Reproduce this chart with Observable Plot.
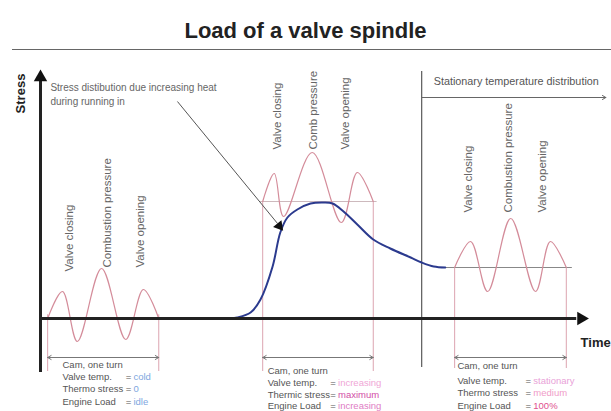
<!DOCTYPE html>
<html>
<head>
<meta charset="utf-8">
<script src="https://cdn.jsdelivr.net/npm/d3@7"></script>
<script src="https://cdn.jsdelivr.net/npm/@observablehq/plot@0.6"></script>
<style>
  html, body { margin: 0; padding: 0; background: #fff; }
  #wrap { width: 611px; height: 411px; overflow: hidden; position: relative; }
  #title { height: 50px; margin-left: 12px; border-bottom: 1.5px solid #666;
           font: bold 22px "Liberation Sans", Arial, sans-serif; color: #222;
           text-align: center; line-height: 22px; padding-top: 20px; padding-right: 12px; box-sizing: border-box; }
  svg { display: block; }
</style>
</head>
<body>
<div id="wrap">
  <div id="title">Load of a valve spindle</div>
  <div id="chart"></div>
</div>
<script>
// ---- data (time t, stress s) ----
// cam-turn waves: left (idle, cold), middle (running in), right (stationary)
const waveLeftT  = [1.3, 4.0, 6.7, 11.1, 15.5, 18.7, 21.5];
const waveLeftS  = [0, 10.8, -9.2, 20.0, -8.4, 11.6, 0];
const waveMidT   = [40.4, 42.5, 44.2, 49.4, 54.7, 57.6, 60.5];
const waveMidS   = [46.8, 58.0, 40.8, 66.4, 38.4, 58.4, 46.8];
const waveRightT = [75.3, 78.2, 81.3, 85.5, 90.0, 92.7, 95.6];
const waveRightS = [20.4, 30.8, 10.8, 40.0, 10.8, 30.8, 20.4];

// mean thermal stress during running in
const heatT = [34.5, 35.8, 38.2, 40.0, 42.2, 43.6, 44.9, 46.7, 49.1, 51.5, 53.1, 55.1, 57.6, 60.5, 63.6, 67.3, 69.3, 71.5, 73.6];
const heatS = [0, 0.4, 2.4, 7.6, 20.8, 34.4, 40.4, 43.6, 46.0, 46.4, 46.0, 42.8, 37.6, 31.6, 28.0, 24.4, 22.4, 20.8, 20.4];

// cam turn spans (start, end), mean levels and bracket bottoms
const camStart = [1.3, 40.4, 75.3];
const camEnd   = [21.5, 60.5, 95.6];
const camMean  = [1.5, 46.8, 20.4];
const camFoot  = [-21.2, -21.2, -20.0];
const camArrowS = -15.6;

// vertical event labels
const eventLabels = ["Valve closing", "Combustion pressure", "Valve opening",
                     "Valve closing", "Comb pressure", "Valve opening",
                     "Valve closing", "Combustion pressure", "Valve opening"];
const eventT = [5.3, 12.2, 18.2, 43.1, 49.6, 55.4, 77.8, 85.1, 91.3];
const eventS = [18.8, 20.4, 20.4, 67.6, 67.6, 67.6, 42.4, 42.4, 42.4];

// info blocks under each cam turn
const infoKeys = [
  ["Cam, one turn", "Valve temp.", "Thermo stress", "Engine Load"],
  ["Cam, one turn", "Valve temp.", "Thermic stress", "Engine Load"],
  ["Cam, one turn", "Valve temp.", "Thermo stress", "Engine Load"]
];
const infoValues = [
  ["", "cold", "0", "idle"],
  ["", "increasing", "maximum", "increasing"],
  ["", "stationary", "medium", "100%"]
];
const infoColors = [
  ["#555", "#7ea6e0", "#7ea6e0", "#7ea6e0"],
  ["#555", "#f0a6d6", "#d24ea6", "#e07cc4"],
  ["#555", "#e9a2d8", "#f09cc8", "#e04f8e"]
];
const infoLabelT = [4.0, 41.3, 75.8];
const infoEqT    = [16.5, 53.7, 89.2];
const infoS = [
  [-18.4, -23.2, -28.0, -33.2],
  [-20.8, -25.6, -30.4, -35.0],
  [-18.8, -24.8, -29.6, -34.8]
];

const annotationLines = ["Stress distibution due increasing heat", "during running in"];
const annotationT = 1.8;
const annotationS = [92.4, 86.8];
const annotationFrom = [24.9, 86.8];
const annotationTo = [43.4, 37.0];

const stationaryLabel = "Stationary temperature distribution";
const dividerT = 69.3;

// ---- build tables ----
const pts = (ts, ss, k) => ts.map((t, i) => ({t, s: ss[i], k}));
const waves = [...pts(waveLeftT, waveLeftS, "L"), ...pts(waveMidT, waveMidS, "M"), ...pts(waveRightT, waveRightS, "R")];
const heat = pts(heatT, heatS, "H");
const cams = camStart.map((a, i) => ({a, b: camEnd[i], m: camMean[i], f: camFoot[i], mid: (a + camEnd[i]) / 2}));
const events = eventLabels.map((text, i) => ({text, t: eventT[i], s: eventS[i]}));
const info = [];
infoKeys.forEach((keys, b) => keys.forEach((key, j) => info.push({
  key, value: infoValues[b][j], color: infoColors[b][j],
  t: infoLabelT[b], te: infoEqT[b], s: infoS[b][j], eq: j > 0
})));

const font = "'Liberation Sans', Arial, sans-serif";

const chart = Plot.plot({
  width: 611, height: 361,
  marginLeft: 40, marginRight: 21, marginTop: 0, marginBottom: 0,
  x: {domain: [0, 100], axis: null},
  y: {domain: [-37.2, 107.2], axis: null},
  style: {fontFamily: font, background: "#fff"},
  marks: [
    // cam turn brackets
    Plot.ruleX(cams, {x: "a", y1: "m", y2: "f", stroke: "#dca4b0", strokeWidth: 1}),
    Plot.ruleX(cams, {x: "b", y1: "m", y2: "f", stroke: "#dca4b0", strokeWidth: 1}),
    Plot.ruleY(cams.slice(1, 2), {y: "m", x1: d => d.a - 0.5, x2: d => d.b + 0.7, stroke: "#cdb9bd", strokeWidth: 1.2}),
    Plot.ruleY(cams.slice(2, 3), {y: "m", x1: 72.7, x2: d => d.b + 1.1, stroke: "#888", strokeWidth: 1.2}),
    Plot.arrow(cams, {x1: "mid", x2: "a", y1: camArrowS, y2: camArrowS, stroke: "#777", strokeWidth: 1, headLength: 6}),
    Plot.arrow(cams, {x1: "mid", x2: "b", y1: camArrowS, y2: camArrowS, stroke: "#777", strokeWidth: 1, headLength: 6}),
    // stationary region divider
    Plot.ruleX([dividerT], {y1: -19.6, y2: 98.8, stroke: "#666", strokeWidth: 1.3}),
    Plot.arrow([dividerT], {x1: d => d, x2: 102.8, y1: 88.4, y2: 88.4, stroke: "#666", strokeWidth: 1, headLength: 6}),
    Plot.text([stationaryLabel], {x: 71.5, y: 94.8, text: d => d, textAnchor: "start", fontSize: 10.8, fill: "#555"}),
    // waves
    Plot.line(waves, {x: "t", y: "s", z: "k", curve: "catmull-rom", stroke: "#d48c9a", strokeWidth: 1.2}),
    // heat curve
    Plot.line(heat, {x: "t", y: "s", curve: "catmull-rom", stroke: "#2b3a8e", strokeWidth: 2}),
    // axes
    Plot.ruleX([0], {y1: -21.6, y2: 95, stroke: "#222", strokeWidth: 3}),
    Plot.ruleY([0], {x1: 0, x2: 97.5, stroke: "#222", strokeWidth: 3}),
    Plot.dot([[0, 96.5]], {x: d => d[0], y: d => d[1], symbol: "triangle", r: 5, fill: "#111"}),
    Plot.dot([[98.3, 0]], {x: d => d[0], y: d => d[1], symbol: "triangle", r: 5, fill: "#111", rotate: 90}),
    Plot.text(["Stress"], {x: -3.6, y: 90, text: d => d, rotate: -90, fontSize: 13, fontWeight: "bold", fill: "#222"}),
    Plot.text(["Time"], {x: 98.2, y: -9.6, text: d => d, textAnchor: "start", fontSize: 13, fontWeight: "bold", fill: "#222"}),
    // annotation
    Plot.link([0], {x1: annotationFrom[0], y1: annotationFrom[1], x2: annotationTo[0] - 0.3, y2: annotationTo[1] + 1, stroke: "#555", strokeWidth: 1}),
    Plot.dot([annotationTo], {x: d => d[0], y: d => d[1], symbol: "triangle", r: 4, fill: "#111", rotate: 141}),
    Plot.text(annotationLines, {x: annotationT, y: (d, i) => annotationS[i], text: d => d, textAnchor: "start", fontSize: 10, fill: "#666"}),
    // event labels
    Plot.text(events, {x: "t", y: "s", text: "text", rotate: -90, textAnchor: "start", fontSize: 11.5, fill: "#666"}),
    // info blocks
    Plot.text(info, {x: "t", y: "s", text: "key", textAnchor: "start", fontSize: 9.5, fill: "#555"}),
    Plot.text(info.filter(d => d.eq), {x: "te", y: "s", text: () => "=", textAnchor: "end", fontSize: 9.5, fill: "#555"}),
    Plot.text(info.filter(d => d.eq), {x: d => d.te + 0.4, y: "s", text: "value", textAnchor: "start", fontSize: 9.5, fill: "color"})
  ]
});
document.getElementById("chart").appendChild(chart);
</script>
</body>
</html>
